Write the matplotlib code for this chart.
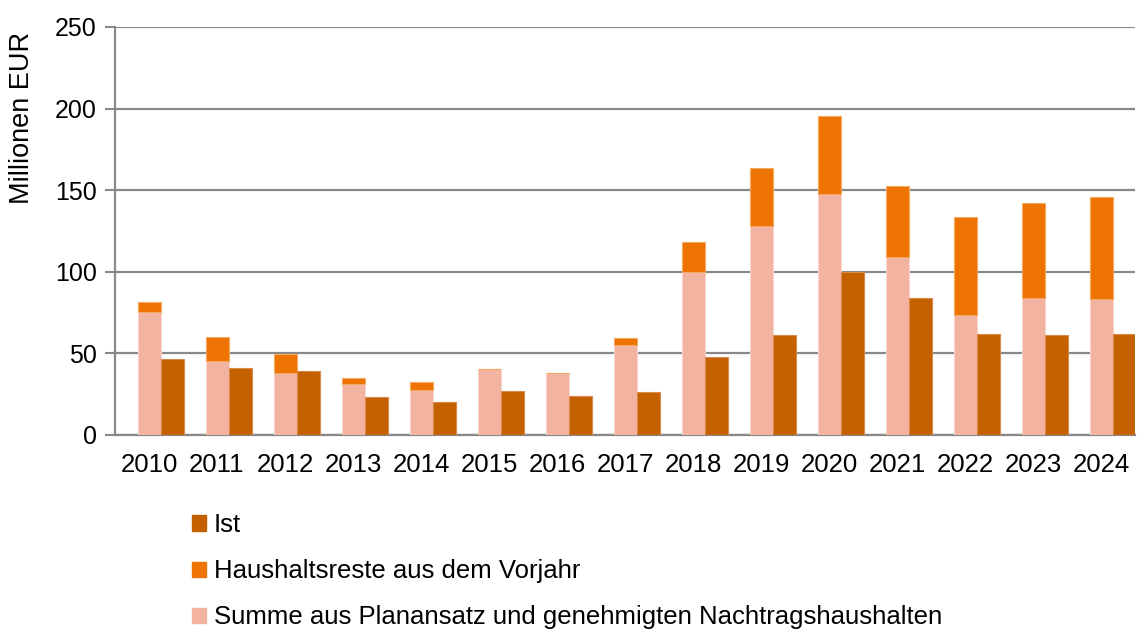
import matplotlib
matplotlib.use("Agg")
import matplotlib.pyplot as plt
from matplotlib.patches import Patch
import numpy as np

# Data (Millionen EUR)
years = ["2010", "2011", "2012", "2013", "2014", "2015", "2016", "2017",
         "2018", "2019", "2020", "2021", "2022", "2023", "2024"]
summe = [75.6, 45.5, 38.2, 31.4, 27.8, 40.2, 38.2, 55.1,
         99.9, 128.1, 147.7, 108.9, 73.8, 83.9, 83.3]
reste = [5.7, 14.7, 11.6, 3.5, 4.7, 0.0, 0.0, 4.1,
         18.2, 35.5, 47.6, 43.5, 59.6, 58.1, 62.6]
ist = [46.8, 41.2, 39.2, 23.3, 20.0, 26.8, 23.7, 26.1,
       47.8, 61.3, 100.1, 83.9, 61.7, 61.3, 61.9]

C_IST = "#C46000"
C_RESTE = "#ED7403"
C_SUMME = "#F2B4A0"
GRID = "#898989"

plt.rcParams["font.family"] = ["Liberation Sans", "DejaVu Sans"]

fig = plt.figure(figsize=(11.37, 6.3), dpi=100)
ax = fig.add_axes([115 / 1137, 1 - 435 / 630, 1020 / 1137, 408 / 630])

x = np.arange(len(years))
w = 0.333
ax.bar(x + 0.01, summe, w, color=C_SUMME, edgecolor="#F8D6CB", linewidth=0.8, zorder=3)
ax.bar(x + 0.01, reste, w, bottom=summe, color=C_RESTE, edgecolor="#F5A860", linewidth=0.8, zorder=3)
ax.bar(x + 0.343, ist, w, color=C_IST, edgecolor="#D9884A", linewidth=0.8, zorder=3)

ax.set_xlim(-0.5, 14.5)
ax.set_ylim(0, 250)
ax.set_yticks(range(0, 251, 50))
ax.set_xticks(x)
ax.set_xticklabels(years, fontsize=18.5)
ax.tick_params(axis="x", length=0, pad=13)
ax.tick_params(axis="y", labelsize=18, length=7, width=1.5, color=GRID, pad=6)
ax.yaxis.grid(True, color=GRID, linewidth=1.6, zorder=0)
ax.set_axisbelow(True)
for s in ["top", "right"]:
    ax.spines[s].set_visible(False)
for s in ["left", "bottom"]:
    ax.spines[s].set_color(GRID)
    ax.spines[s].set_linewidth(1.6)

fig.text(22 / 1137, 1 - 118 / 630, "Millionen EUR", rotation=90, fontsize=19.5,
         ha="center", va="center")

handles = [Patch(color=C_IST, label="Ist"),
           Patch(color=C_RESTE, label="Haushaltsreste aus dem Vorjahr"),
           Patch(color=C_SUMME, label="Summe aus Planansatz und genehmigten Nachtragshaushalten")]
fig.legend(handles=handles, loc="upper left", bbox_to_anchor=(182 / 1137, 1 - 503 / 630),
           frameon=False, prop={"size": 18.5}, handlelength=0.55,
           handleheight=0.55, handletextpad=0.3, labelspacing=0.86, borderaxespad=0)

fig.savefig("out.png", dpi=100)
